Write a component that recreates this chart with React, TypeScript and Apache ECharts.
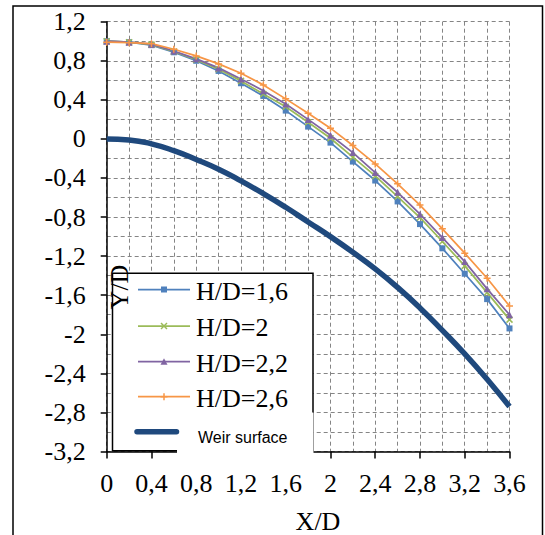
import React, { useEffect, useRef } from "react";
import * as echarts from "echarts";

const xValues = [0, 0.2, 0.4, 0.6, 0.8, 1.0, 1.2, 1.4, 1.6, 1.8, 2.0, 2.2, 2.4, 2.6, 2.8, 3.0, 3.2, 3.4, 3.6];
const hd16 = [1.0, 0.99, 0.96, 0.887, 0.8, 0.696, 0.57, 0.44, 0.29, 0.126, -0.038, -0.232, -0.426, -0.64, -0.872, -1.12, -1.38, -1.64, -1.94];
const hd20 = [1.0, 0.99, 0.965, 0.895, 0.81, 0.713, 0.594, 0.46, 0.33, 0.17, 0.007, -0.187, -0.379, -0.59, -0.805, -1.05, -1.3, -1.573, -1.85];
const hd22 = [1.0, 0.99, 0.97, 0.9, 0.82, 0.727, 0.614, 0.494, 0.358, 0.2, 0.038, -0.14, -0.345, -0.546, -0.77, -1.01, -1.256, -1.535, -1.8];
const hd26 = [0.99, 0.985, 0.975, 0.918, 0.85, 0.768, 0.672, 0.553, 0.41, 0.263, 0.11, -0.068, -0.256, -0.46, -0.677, -0.92, -1.17, -1.426, -1.71];
const weir = [0, -0.01, -0.05, -0.12, -0.21, -0.31, -0.43, -0.56, -0.7, -0.85, -1.0, -1.16, -1.33, -1.52, -1.73, -1.96, -2.2, -2.46, -2.74];
const seriesNames = ["H/D=1,6", "H/D=2", "H/D=2,2", "H/D=2,6", "Weir surface"];

const C_BLUE = "#4F81BD";
const C_GREEN = "#9BBB59";
const C_PURPLE = "#8064A2";
const C_ORANGE = "#F79646";
const C_WEIR = "#1F497D";
const SERIF = "Liberation Serif";

const pairs = (ys: number[]) => xValues.map((x, i) => [x, ys[i]]);
const fmt = (v: number) => String(Math.round(v * 10) / 10).replace(".", ",");

export default function App() {
  const ref = useRef<HTMLDivElement>(null);
  useEffect(() => {
    if (!ref.current) return;
    const chart = echarts.init(ref.current, undefined, { renderer: "svg" });
    const grid = "#858585";
    const dash = [4, 3];
    const lineSeries = (name: string, data: number[], color: string, symbol: string, size: number, bw: number) => ({
      name,
      type: "line",
      data: pairs(data),
      symbol,
      symbolSize: size,
      showSymbol: true,
      lineStyle: { color, width: 1.75 },
      itemStyle: { color, borderColor: color, borderWidth: bw },
      z: 3,
    });
    const legendRows = [289.5, 326, 361.7, 396.7];
    const legendColors = [C_BLUE, C_GREEN, C_PURPLE, C_ORANGE];
    const mx = 164;
    const graphics: any[] = [
      { type: "rect", z: 100, shape: { x: 13, y: 6, width: 529.5, height: 540 }, style: { fill: "none", stroke: "#000", lineWidth: 1.5 } },
      { type: "rect", z: 50, shape: { x: 112.5, y: 273.3, width: 200.5, height: 177.5 }, style: { fill: "#fff", stroke: "#000", lineWidth: 1.5 } },
      { type: "rect", z: 51, shape: { x: 177, y: 412.5, width: 136.5, height: 48 }, style: { fill: "#fff", stroke: "none" } },
    ];
    legendRows.forEach((y, i) => {
      graphics.push({ type: "line", z: 52, shape: { x1: 138, y1: y, x2: 190, y2: y }, style: { stroke: legendColors[i], lineWidth: 1.75 } });
      graphics.push({ type: "text", z: 52, style: { text: seriesNames[i], x: 196, y: y + 1.5, fill: "#000", font: `26px "${SERIF}"`, textVerticalAlign: "middle", textAlign: "left" } });
    });
    graphics.push({ type: "rect", z: 53, shape: { x: mx - 3, y: legendRows[0] - 3, width: 6, height: 6 }, style: { fill: C_BLUE } });
    graphics.push({ type: "line", z: 53, shape: { x1: mx - 3, y1: legendRows[1] - 3, x2: mx + 3, y2: legendRows[1] + 3 }, style: { stroke: C_GREEN, lineWidth: 1.5 } });
    graphics.push({ type: "line", z: 53, shape: { x1: mx + 3, y1: legendRows[1] - 3, x2: mx - 3, y2: legendRows[1] + 3 }, style: { stroke: C_GREEN, lineWidth: 1.5 } });
    graphics.push({ type: "polygon", z: 53, shape: { points: [[mx, legendRows[2] - 3.5], [mx + 3.5, legendRows[2] + 3], [mx - 3.5, legendRows[2] + 3]] }, style: { fill: C_PURPLE } });
    graphics.push({ type: "line", z: 53, shape: { x1: mx, y1: legendRows[3] - 3.5, x2: mx, y2: legendRows[3] + 3.5 }, style: { stroke: C_ORANGE, lineWidth: 1.5 } });
    graphics.push({ type: "line", z: 53, shape: { x1: mx - 3.5, y1: legendRows[3], x2: mx + 3.5, y2: legendRows[3] }, style: { stroke: C_ORANGE, lineWidth: 1.5 } });
    graphics.push({ type: "line", z: 53, shape: { x1: 137, y1: 431.7, x2: 176.5, y2: 431.7 }, style: { stroke: C_WEIR, lineWidth: 5.5, lineCap: "round" } });
    graphics.push({ type: "text", z: 53, style: { text: seriesNames[4], x: 198, y: 437, fill: "#000", font: "16px \"Liberation Sans\"", textVerticalAlign: "middle", textAlign: "left" } });
    graphics.push({ type: "text", z: 60, style: { text: "X/D", x: 318, y: 521, fill: "#000", font: `26px "${SERIF}"`, textAlign: "center", textVerticalAlign: "middle" } });
    graphics.push({ type: "text", z: 60, x: 119, y: 287, rotation: Math.PI / 2, style: { text: "Y/D", x: 0, y: 0, fill: "#000", font: `26px "${SERIF}"`, textAlign: "center", textVerticalAlign: "middle" } });

    const labelStyle = { color: "#000", fontFamily: SERIF, fontSize: 26, formatter: fmt };
    chart.setOption({
      animation: false,
      backgroundColor: "#fff",
      textStyle: { fontFamily: SERIF },
      grid: { left: 106.7, right: 35.5, top: 21.7, bottom: 83.5, containLabel: false },
      xAxis: {
        type: "value",
        min: 0,
        max: 3.6,
        interval: 0.4,
        axisLine: { show: true, onZero: false, lineStyle: { color: "#000", width: 1.5 } },
        axisTick: { show: true, length: 7, lineStyle: { color: "#000", width: 1.5 } },
        axisLabel: { ...labelStyle, margin: 19 },
        splitLine: { show: true, lineStyle: { color: grid, type: dash, width: 1 } },
        minorTick: { show: false, splitNumber: 2 },
        minorSplitLine: { show: true, lineStyle: { color: grid, type: dash, width: 1 } },
      },
      yAxis: {
        type: "value",
        min: -3.2,
        max: 1.2,
        interval: 0.4,
        axisLine: { show: true, onZero: false, lineStyle: { color: "#000", width: 1.5 } },
        axisTick: { show: true, length: 6, lineStyle: { color: "#000", width: 1.5 } },
        axisLabel: { ...labelStyle, margin: 21 },
        splitLine: { show: true, lineStyle: { color: grid, type: dash, width: 1 } },
        minorTick: { show: false, splitNumber: 2 },
        minorSplitLine: { show: true, lineStyle: { color: grid, type: dash, width: 1 } },
      },
      series: [
        lineSeries(seriesNames[0], hd16, C_BLUE, "rect", 6, 0),
        lineSeries(seriesNames[1], hd20, C_GREEN, "path://M0,0L10,10M10,0L0,10", 6, 1.5),
        lineSeries(seriesNames[2], hd22, C_PURPLE, "triangle", 7, 0),
        lineSeries(seriesNames[3], hd26, C_ORANGE, "path://M5,0L5,10M0,5L10,5", 7, 1.5),
        {
          name: seriesNames[4],
          type: "line",
          data: pairs(weir),
          smooth: true,
          showSymbol: false,
          symbol: "none",
          lineStyle: { color: C_WEIR, width: 5.5 },
          z: 2,
        },
      ],
      graphic: graphics,
    });
    return () => chart.dispose();
  }, []);
  return <div ref={ref} style={{ position: "fixed", left: 0, top: 0, width: 545, height: 535, background: "#fff" }} />;
}
